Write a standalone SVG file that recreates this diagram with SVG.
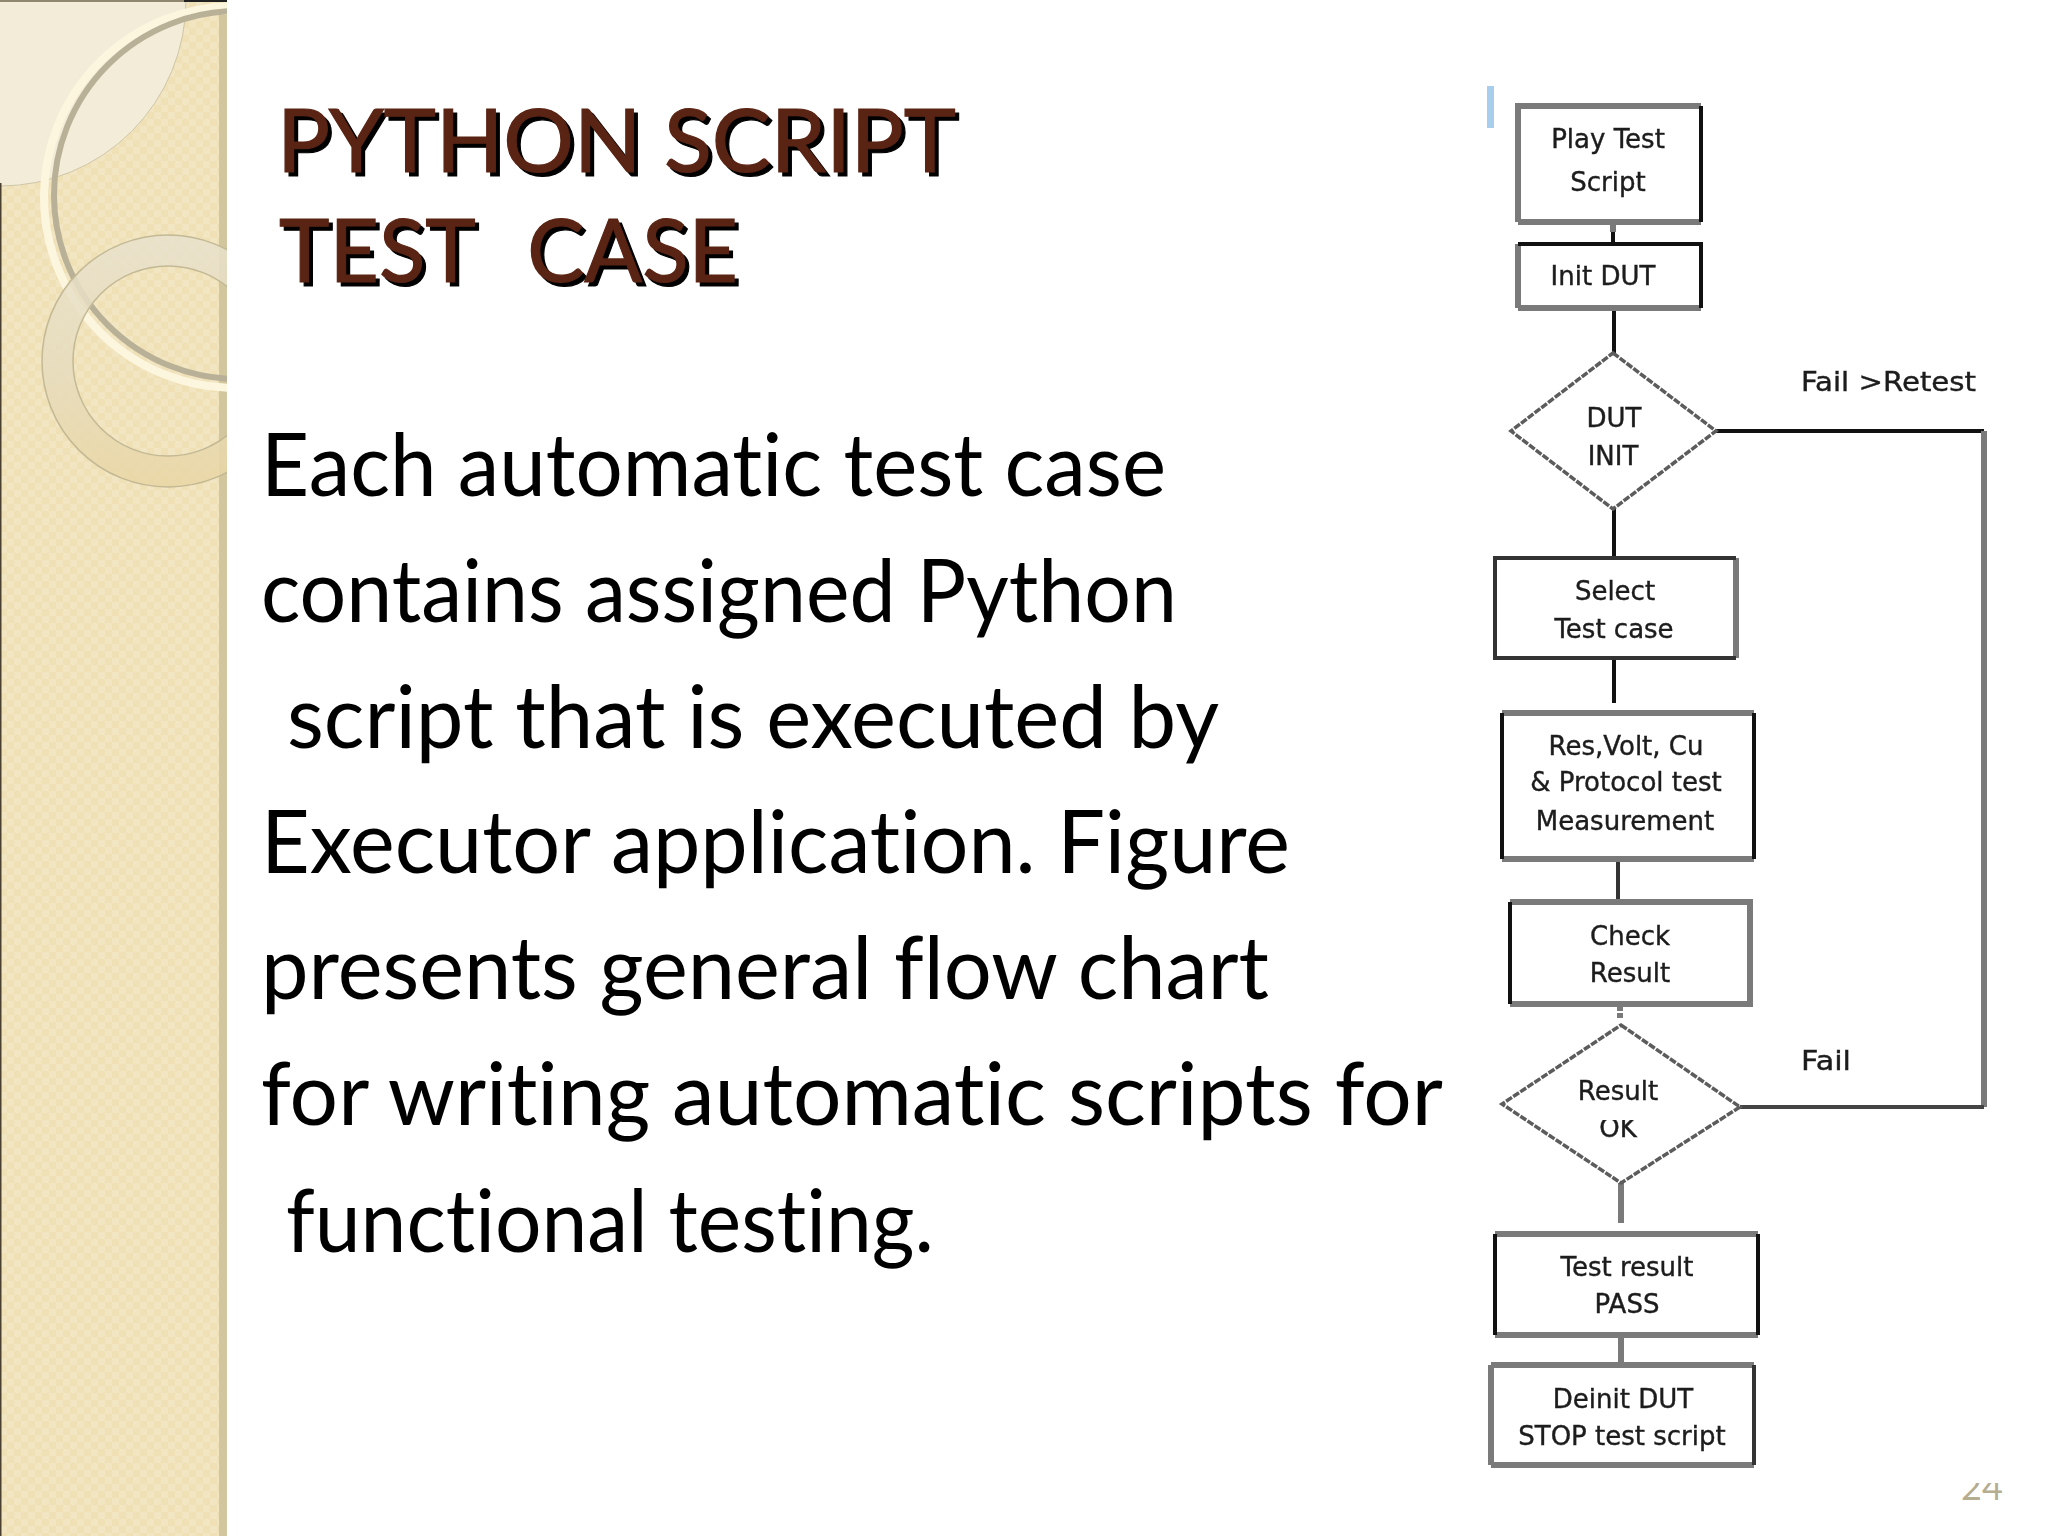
<svg xmlns="http://www.w3.org/2000/svg" width="2048" height="1536" viewBox="0 0 2048 1536">
<style>
.body{font-family:"Lato","Noto Sans",sans-serif;font-size:88px;fill:#000;white-space:pre;font-variant-ligatures:none}
.title{font-family:"Lato","Noto Sans",sans-serif;font-size:88px;white-space:pre;stroke-width:1.2;font-variant-ligatures:none}
.ts{fill:#000;stroke:#000}
.tf{fill:#5a2414;stroke:#5a2414}
.fc{font-family:"DejaVu Sans","Liberation Sans",sans-serif;font-size:26px;fill:#1c1c1c;stroke:#1c1c1c;stroke-width:.4;text-anchor:middle;white-space:pre;filter:url(#soft)}
.fl{text-anchor:start}
.b{fill:#fff;stroke:none}
.k{fill:none;stroke:#111;stroke-width:4}
.g{fill:none;stroke:#7a7a7a;stroke-width:6}
.d{fill:#fff;stroke:#5c5c5c;stroke-width:3.5;stroke-dasharray:7 1.5}
</style>
<defs>
<filter id="soft" x="-10%" y="-20%" width="120%" height="140%"><feGaussianBlur stdDeviation="0.7"/></filter>
<pattern id="chk" width="14" height="14" patternUnits="userSpaceOnUse"><rect width="14" height="14" fill="#efe0b6"/><rect width="7" height="7" fill="#f2e5c2"/><rect x="7" y="7" width="7" height="7" fill="#f2e5c2"/></pattern>
<linearGradient id="ring" x1="0" y1="0" x2="0" y2="1"><stop offset="0" stop-color="#e8e1cc"/><stop offset="0.55" stop-color="#e6dcbd"/><stop offset="1" stop-color="#e9d6a4"/></linearGradient>
<clipPath id="panel"><rect width="227" height="1536"/></clipPath>
<clipPath id="okc"><rect x="1570" y="1120" width="100" height="30"/></clipPath>
<clipPath id="numc"><rect x="1940" y="1483" width="80" height="30"/></clipPath>
</defs>
<g id="background">
<rect width="2048" height="1536" fill="#fff"/>
<g clip-path="url(#panel)">
<rect width="227" height="1536" fill="url(#chk)"/>
<circle cx="0" cy="0" r="186" fill="#f3ecd8" stroke="#cfc6a8" stroke-width="1"/>
<rect x="219" y="15" width="8" height="1521" fill="#d2c69e"/>
<circle cx="235" cy="197" r="191" fill="none" stroke="#fdf6df" stroke-width="8"/>
<circle cx="238" cy="195" r="184" fill="none" stroke="#b9b197" stroke-width="6"/>
<path fill-rule="evenodd" d="M42 361a126 126 0 1 0 252 0a126 126 0 1 0-252 0zM73 361a95 95 0 1 1 190 0a95 95 0 1 1-190 0z" fill="url(#ring)" fill-opacity="0.85" stroke="#c3b995" stroke-width="1.5"/>
</g>
<rect x="0" y="183" width="1.5" height="1353" fill="#4a4030"/>
<rect x="0" y="0" width="184" height="2" fill="#8f8770"/>
<rect x="184" y="0" width="43" height="2" fill="#222"/>
<rect x="1487" y="86" width="7" height="42" fill="#a9cdec"/>
</g>
<g id="title">
<text class="title ts" x="281" y="176" textLength="679" lengthAdjust="spacingAndGlyphs">PYTHON SCRIPT</text>
<text class="title tf" x="277" y="172" textLength="679" lengthAdjust="spacingAndGlyphs">PYTHON SCRIPT</text>
<text class="title ts" x="283" y="286" textLength="459" lengthAdjust="spacingAndGlyphs" word-spacing="-4">TEST   CASE</text>
<text class="title tf" x="279" y="282" textLength="459" lengthAdjust="spacingAndGlyphs" word-spacing="-4">TEST   CASE</text>
</g>
<g id="body">
<text class="body" x="261" y="496" textLength="905" lengthAdjust="spacingAndGlyphs">Each automatic test case</text>
<text class="body" x="261" y="622" textLength="916" lengthAdjust="spacingAndGlyphs">contains assigned Python</text>
<text class="body" x="287" y="748" textLength="932" lengthAdjust="spacingAndGlyphs">script that is executed by</text>
<text class="body" x="261" y="873" textLength="1029" lengthAdjust="spacingAndGlyphs">Executor application. Figure</text>
<text class="body" x="261" y="999" textLength="1008" lengthAdjust="spacingAndGlyphs">presents general flow chart</text>
<text class="body" x="261" y="1125" textLength="1182" lengthAdjust="spacingAndGlyphs">for writing automatic scripts for</text>
<text class="body" x="286" y="1252" textLength="648" lengthAdjust="spacingAndGlyphs">functional testing.</text>
</g>
<g id="connectors">
<path class="g" d="M1613 222V232"/><path class="k" d="M1613 232V244"/>
<path class="k" d="M1614 308V353"/>
<path class="k" d="M1614 509V558"/>
<path class="k" d="M1614 658V703"/>
<path class="k" d="M1618 859V902" style="stroke:#333"/>
<path class="g" d="M1620 1006V1020" stroke-dasharray="5 2"/>
<path class="g" d="M1621 1183V1223"/>
<path class="g" d="M1621 1335V1365"/>
<path class="k" d="M1716 431H1984"/>
<path class="g" d="M1984 431V1107"/>
<path class="k" d="M1740 1107H1984" style="stroke:#444"/>
</g>
<g id="play-test-script"><rect class="b" x="1518" y="106" width="183" height="116"/><path class="g" d="M1518 222V106H1701M1518 222H1701"/><path class="k" d="M1701 106V222"/><text class="fc" x="1608" y="148">Play Test</text><text class="fc" x="1608" y="191">Script</text></g>
<g id="init-dut"><rect class="b" x="1518" y="244" width="183" height="64"/><path class="g" d="M1518 308H1701M1518 244V308"/><path class="k" d="M1518 244H1701V308"/><text class="fc" x="1603" y="285">Init DUT</text></g>
<g id="dut-init"><polygon class="d" points="1613,353 1716,431 1613,509 1511,431"/><text class="fc" x="1614" y="427">DUT</text><text class="fc" x="1613" y="465">INIT</text></g>
<g id="select-test-case"><rect class="b" x="1495" y="558" width="241" height="100"/><path class="g" d="M1736 558V658"/><path class="k" d="M1736 558H1495V658H1736" style="stroke:#333"/><text class="fc" x="1615" y="600">Select</text><text class="fc" x="1614" y="638">Test case</text></g>
<g id="measurement"><rect class="b" x="1502" y="713" width="252" height="146"/><path class="g" d="M1502 713H1754M1502 859H1754"/><path class="k" d="M1502 713V859M1754 713V859"/><text class="fc" x="1626" y="755">Res,Volt, Cu</text><text class="fc" x="1626" y="791">&amp; Protocol test</text><text class="fc" x="1625" y="830">Measurement</text></g>
<g id="check-result"><rect class="b" x="1510" y="902" width="240" height="102"/><path class="g" d="M1510 902H1750V1004H1510"/><path class="k" d="M1510 902V1004"/><text class="fc" x="1630" y="945">Check</text><text class="fc" x="1630" y="982">Result</text></g>
<g id="result-ok"><polygon class="d" points="1621,1025 1740,1107 1621,1183 1502,1104"/><text class="fc" x="1618" y="1100">Result</text><text class="fc" x="1618" y="1137" clip-path="url(#okc)">OK</text></g>
<g id="test-result-pass"><rect class="b" x="1495" y="1234" width="263" height="101"/><path class="g" d="M1495 1234H1758M1495 1335H1758"/><path class="k" d="M1495 1234V1335M1758 1234V1335"/><text class="fc" x="1627" y="1276">Test result</text><text class="fc" x="1627" y="1313">PASS</text></g>
<g id="deinit-dut"><rect class="b" x="1491" y="1365" width="263" height="100"/><path class="g" d="M1491 1365H1754M1491 1465H1754M1491 1365V1465"/><path class="k" d="M1754 1365V1465" style="stroke:#333"/><text class="fc" x="1623" y="1408">Deinit DUT</text><text class="fc" x="1622" y="1445">STOP test script</text></g>
<g id="labels">
<text class="fc fl" x="1801" y="391" textLength="175" lengthAdjust="spacingAndGlyphs">Fail &gt;Retest</text>
<text class="fc fl" x="1801" y="1070" textLength="50" lengthAdjust="spacingAndGlyphs">Fail</text>
<text x="1961" y="1500" font-family="Lato,sans-serif" font-size="36" fill="#b5ad8f" clip-path="url(#numc)">24</text>
</g>
</svg>
